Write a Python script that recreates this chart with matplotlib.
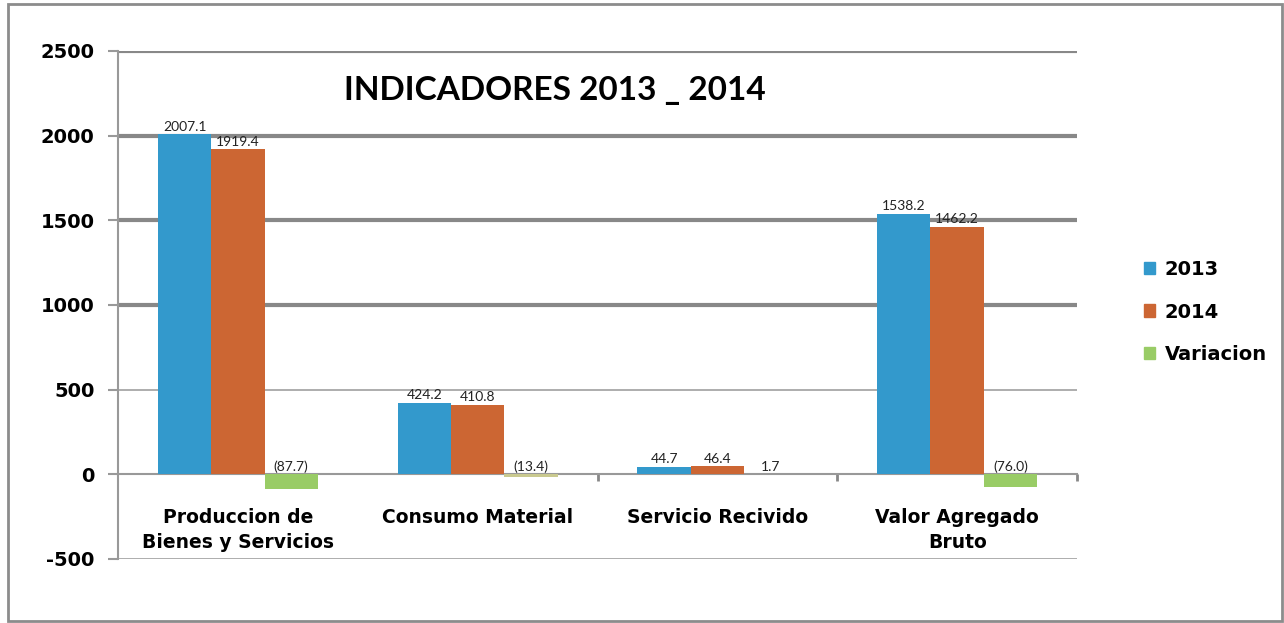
import matplotlib
matplotlib.use("Agg")
import matplotlib.pyplot as plt
from matplotlib.patches import Rectangle, Patch
import numpy as np

categories = ["Produccion de\nBienes y Servicios", "Consumo Material",
              "Servicio Recivido", "Valor Agregado\nBruto"]
v2013 = [2007.1, 424.2, 44.7, 1538.2]
v2014 = [1919.4, 410.8, 46.4, 1462.2]
variacion = [-87.7, -13.4, 1.7, -76.0]
series_names = ["2013", "2014", "Variacion"]
yticks = [-500, 0, 500, 1000, 1500, 2000, 2500]

c2013 = "#3399cc"
c2014 = "#cc6633"
cvar = "#99cc66"
cvar_alt = "#c9c98f"

fig = plt.figure(figsize=(12.84, 6.23), dpi=100)
ax = fig.add_axes([118 / 1284, 1 - 559 / 623, 959 / 1284, 508 / 623])

x = np.arange(len(categories))
w = 1 / 4.5
var_colors = [cvar, cvar_alt, cvar, cvar]

ax.bar(x - w, v2013, w, color=c2013, zorder=3)
ax.bar(x, v2014, w, color=c2014, zorder=3)
ax.bar(x + w, variacion, w, color=var_colors, zorder=3)


def fmt(v):
    return f"({abs(v):.1f})" if v < 0 else f"{v:.1f}"


for vals, off in [(v2013, -w), (v2014, 0), (variacion, w)]:
    for xi, v in zip(x, vals):
        ax.annotate(fmt(v), (xi + off, max(v, 0)), xytext=(0, 1),
                    textcoords="offset points", ha="center", va="bottom",
                    fontsize=10, family="Lato", color="#222222", zorder=4)

ax.set_xlim(-0.5, len(categories) - 0.5)
ax.set_ylim(-500, 2500)
ax.set_yticks(yticks)
ax.set_yticklabels([str(t) for t in yticks], fontsize=14, fontweight="bold",
                   family="DejaVu Sans")

ax.grid(axis="y", zorder=0)
for line, t in zip(ax.get_ygridlines(), yticks):
    if t >= 1000:
        line.set_linewidth(3)
        line.set_color("#888888")
    elif t == 0:
        line.set_visible(False)
    else:
        line.set_linewidth(1.2)
        line.set_color("#a0a0a0")

ax.spines["top"].set_visible(False)
ax.spines["right"].set_visible(False)
ax.spines["left"].set_color("#999999")
ax.spines["left"].set_linewidth(1.5)
ax.spines["bottom"].set_position(("data", 0))
ax.spines["bottom"].set_color("#999999")
ax.spines["bottom"].set_linewidth(1.5)
ax.spines["bottom"].set_zorder(2)

ax.tick_params(axis="y", direction="out", length=7, width=1.5,
               color="#999999", pad=10)
ax.set_xticks(x)
ax.set_xticklabels(categories, fontsize=13.5, fontweight="bold",
                   family="DejaVu Sans", linespacing=1.45, va="top")
ax.tick_params(axis="x", which="major", length=0, pad=24)
ax.set_xticks(x[1:] + 0.5, minor=True)
ax.tick_params(axis="x", which="minor", direction="out", length=5,
               width=2, color="#888888")

ax.text(0.456, 0.922, "INDICADORES 2013 _ 2014", transform=ax.transAxes,
        ha="center", va="center", fontsize=24, fontweight="bold",
        family="Lato")

handles = [Patch(color=c) for c in [c2013, c2014, cvar]]
fig.legend(handles, series_names, loc="center left",
           bbox_to_anchor=(1126 / 1284, 1 - 312 / 623), frameon=False,
           prop={"family": "DejaVu Sans", "weight": "bold", "size": 14},
           handlelength=0.6, handleheight=0.6, handletextpad=0.5,
           labelspacing=1.2)

fig.patches.append(Rectangle((8 / 1284, 2 / 623), 1274 / 1284, 617 / 623,
                             transform=fig.transFigure, fill=False,
                             edgecolor="#8c8c8c", linewidth=2))

fig.savefig("out.png", dpi=100)
